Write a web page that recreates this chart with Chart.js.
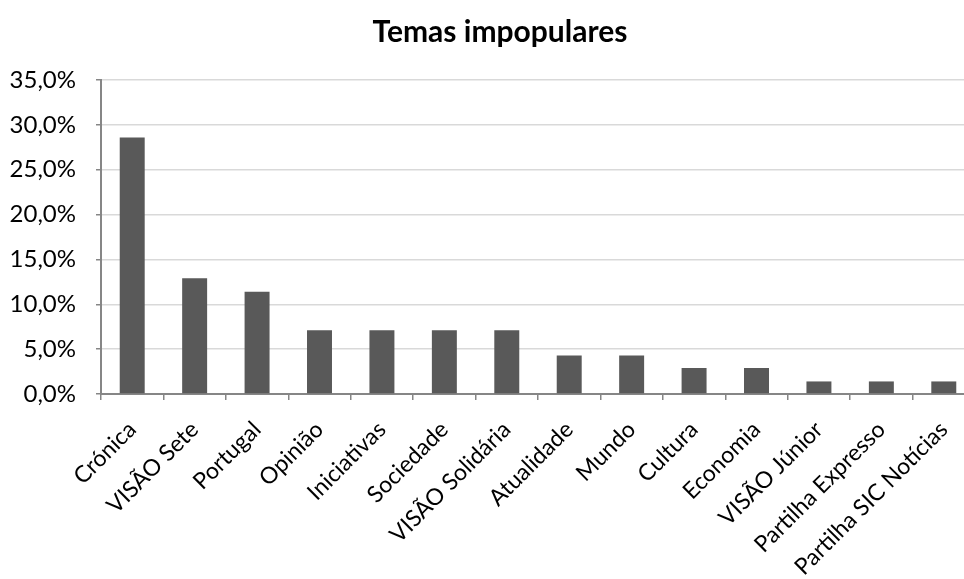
<!DOCTYPE html>
<html>
<head>
<meta charset="utf-8">
<script src="https://cdn.jsdelivr.net/npm/chart.js@4/dist/chart.umd.min.js"></script>
<style>
  html, body { margin: 0; padding: 0; background: #fff; overflow: hidden; }
  #wrap { width: 1000px; height: 579px; position: relative; }
</style>
</head>
<body>
<div id="wrap"><canvas id="c" width="1000" height="579"></canvas></div>
<script>
const categories = ["Crónica", "VISÃO Sete", "Portugal", "Opinião", "Iniciativas", "Sociedade", "VISÃO Solidária", "Atualidade", "Mundo", "Cultura", "Economia", "VISÃO Júnior", "Partilha Expresso", "Partilha SIC Notícias"];
const values = [28.6, 12.9, 11.4, 7.1, 7.1, 7.1, 7.1, 4.3, 4.3, 2.9, 2.9, 1.4, 1.4, 1.4];
const yTicks = [0, 5, 10, 15, 20, 25, 30, 35];
const title = "Temas impopulares";

const FONT = "Lato, 'Open Sans', sans-serif";

const centerTitle = {
  id: 'centerTitle',
  afterLayout(chart) {
    const t = chart.titleBlock;
    if (t) { t.left = 25; t.right = 975; }
  }
};

new Chart(document.getElementById('c'), {
  type: 'bar',
  data: {
    labels: categories,
    datasets: [{
      data: values,
      backgroundColor: '#595959',
      borderWidth: 0,
      barPercentage: 0.4,
      categoryPercentage: 1.0
    }]
  },
  plugins: [centerTitle],
  options: {
    responsive: false,
    animation: false,
    layout: { padding: { left: 0, right: 25, top: 0, bottom: 0 } },
    plugins: {
      legend: { display: false },
      tooltip: { enabled: false },
      title: {
        display: true,
        text: title,
        color: '#000',
        font: { family: FONT, size: 30, weight: 'bold' },
        padding: { top: 14, bottom: 30 }
      }
    },
    scales: {
      x: {
        offset: true,
        grid: { display: true, drawOnChartArea: false, drawTicks: true, tickLength: 6, color: '#868686', lineWidth: 1.5, offset: true },
        border: { display: true, color: '#868686', width: 2 },
        ticks: {
          color: '#000',
          font: { family: FONT, size: 23 },
          maxRotation: 45, minRotation: 45,
          padding: 16,
          autoSkip: false
        },
        afterFit: s => { s.height = 185; }
      },
      y: {
        min: 0, max: 35,
        afterBuildTicks: s => { s.ticks = yTicks.map(v => ({ value: v })); },
        grid: { color: '#d9d9d9', lineWidth: 1.5, tickLength: 5, tickColor: '#868686', drawTicks: true },
        border: { display: true, color: '#868686', width: 2 },
        ticks: {
          color: '#000',
          font: { family: FONT, size: 24 },
          padding: 20,
          callback: v => v.toFixed(1).replace('.', ',') + '%'
        },
        afterFit: s => { s.width = 101; }
      }
    }
  }
});
</script>
</body>
</html>
